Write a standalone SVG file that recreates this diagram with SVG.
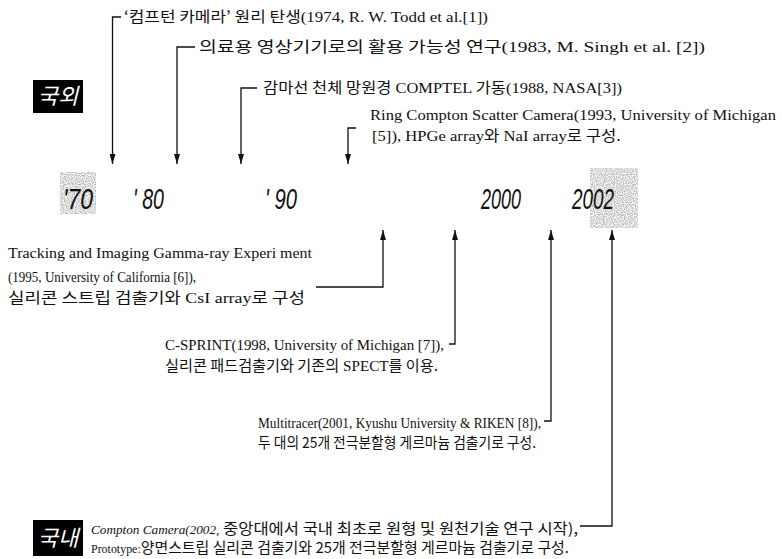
<svg xmlns="http://www.w3.org/2000/svg" width="782" height="559" viewBox="0 0 782 559">
<style>
.t{font-family:"Liberation Serif","Noto Sans CJK KR",serif;font-size:15px;fill:#111}
.k{font-family:"Noto Sans CJK KR","Liberation Sans",sans-serif}
.yr{font-family:"Liberation Sans",sans-serif;font-style:italic;font-size:30px;fill:#111}
.lbl{font-family:"Noto Sans CJK KR",sans-serif;font-style:italic;font-size:22px;fill:#fff}
.c{fill:none;stroke:#111;stroke-width:1.3}
.box{fill:#000}
</style>
<defs>
<marker id="ah" markerUnits="userSpaceOnUse" markerWidth="10" markerHeight="6" refX="10" refY="3" orient="auto">
<path d="M0,0 L10,3 L0,6 z" fill="#111"/>
</marker>
<filter id="noise" x="0" y="0" width="100%" height="100%">
<feTurbulence type="fractalNoise" baseFrequency="0.9" numOctaves="1" seed="3" result="n"/>
<feColorMatrix in="n" type="matrix" values="0 0 0 0 0.45  0 0 0 0 0.45  0 0 0 0 0.45  0 0 0 -2.5 1.7" result="g"/>
<feComposite in="g" in2="SourceGraphic" operator="in"/>
</filter>
</defs>
<rect width="782" height="559" fill="#fff"/>

<g id="label-abroad">
<rect class="box" x="33" y="80" width="50" height="33"/>
<text class="lbl" x="58" y="104" text-anchor="middle">국외</text>
</g>
<g id="label-domestic">
<rect class="box" x="33" y="520" width="50" height="36"/>
<text class="lbl" x="58" y="546" text-anchor="middle">국내</text>
</g>

<g id="years">
<rect x="60" y="172" width="36" height="42" fill="#fff" filter="url(#noise)"/>
<rect x="590" y="168" width="48" height="60" fill="#fff" filter="url(#noise)"/>
<text class="yr" x="63" y="209" textLength="30" lengthAdjust="spacingAndGlyphs">'70</text>
<text class="yr" x="133" y="209" textLength="31" lengthAdjust="spacingAndGlyphs">' 80</text>
<text class="yr" x="265" y="209" textLength="32" lengthAdjust="spacingAndGlyphs">' 90</text>
<text class="yr" x="481" y="209" textLength="40" lengthAdjust="spacingAndGlyphs">2000</text>
<text class="yr" x="572" y="209" textLength="42" lengthAdjust="spacingAndGlyphs">2002</text>
</g>

<g id="n1"><text class="t" x="124" y="22" textLength="364" lengthAdjust="spacingAndGlyphs"><tspan class="k">‘컴프턴 카메라’ 원리 탄생</tspan>(1974, R. W. Todd et al.[1])</text></g>
<g id="n2"><text class="t" x="199" y="52" textLength="506" lengthAdjust="spacingAndGlyphs"><tspan class="k">의료용 영상기기로의 활용 가능성 연구</tspan>(1983, M. Singh et al. [2])</text></g>
<g id="n3"><text class="t" x="263" y="93" textLength="359" lengthAdjust="spacingAndGlyphs"><tspan class="k">감마선 천체 망원경</tspan> COMPTEL <tspan class="k">가동</tspan>(1988, NASA[3])</text></g>
<g id="n4">
<text class="t" x="370" y="120" textLength="406" lengthAdjust="spacingAndGlyphs">Ring Compton Scatter Camera(1993, University of Michigan</text>
<text class="t" x="372" y="141" textLength="249" lengthAdjust="spacingAndGlyphs">[5]), HPGe array<tspan class="k">와</tspan> NaI array<tspan class="k">로 구성.</tspan></text>
</g>
<g id="n6">
<text class="t" x="8" y="258" textLength="304" lengthAdjust="spacingAndGlyphs">Tracking and Imaging Gamma-ray Experi ment</text>
<text class="t" x="8" y="282" textLength="188" lengthAdjust="spacingAndGlyphs">(1995, University of California [6]),</text>
<text class="t" x="8" y="303" textLength="297" lengthAdjust="spacingAndGlyphs"><tspan class="k">실리콘 스트립 검출기와</tspan> CsI array<tspan class="k">로 구성</tspan></text>
</g>
<g id="n7">
<text class="t" x="165" y="350" textLength="279" lengthAdjust="spacingAndGlyphs">C-SPRINT(1998, University of Michigan [7]),</text>
<text class="t" x="165" y="371" textLength="273" lengthAdjust="spacingAndGlyphs"><tspan class="k">실리콘 패드검출기와 기존의</tspan> SPECT<tspan class="k">를 이용.</tspan></text>
</g>
<g id="n8">
<text class="t" x="258" y="428" textLength="283" lengthAdjust="spacingAndGlyphs">Multitracer(2001, Kyushu University &amp; RIKEN [8]),</text>
<text class="t" x="258" y="448" textLength="278" lengthAdjust="spacingAndGlyphs"><tspan class="k">두 대의 25개 전극분할형 게르마늄 검출기로 구성.</tspan></text>
</g>
<g id="n9">
<text class="t" x="91" y="534" textLength="487" lengthAdjust="spacingAndGlyphs"><tspan font-style="italic" font-size="12">Compton Camera(2002,</tspan><tspan class="k"> 중앙대에서 국내 최초로 원형 및 원천기술 연구 시작),</tspan></text>
<text class="t" x="91" y="553" textLength="478" lengthAdjust="spacingAndGlyphs"><tspan font-size="12">Prototype:</tspan><tspan class="k">양면스트립 실리콘 검출기와 25개 전극분할형 게르마늄 검출기로 구성.</tspan></text>
</g>

<g id="connectors">
<path class="c" d="M121,17 H112.5 V164" marker-end="url(#ah)"/>
<path class="c" d="M195,47 H177 V164" marker-end="url(#ah)"/>
<path class="c" d="M257,88 H241 V164" marker-end="url(#ah)"/>
<path class="c" d="M356,128 H348 V164" marker-end="url(#ah)"/>
<path class="c" d="M316,287 H383 V230" marker-end="url(#ah)"/>
<path class="c" d="M449,344 H455 V230" marker-end="url(#ah)"/>
<path class="c" d="M544,421 H551 V230" marker-end="url(#ah)"/>
<path class="c" d="M580,526 H612 V230" marker-end="url(#ah)"/>
</g>
</svg>
